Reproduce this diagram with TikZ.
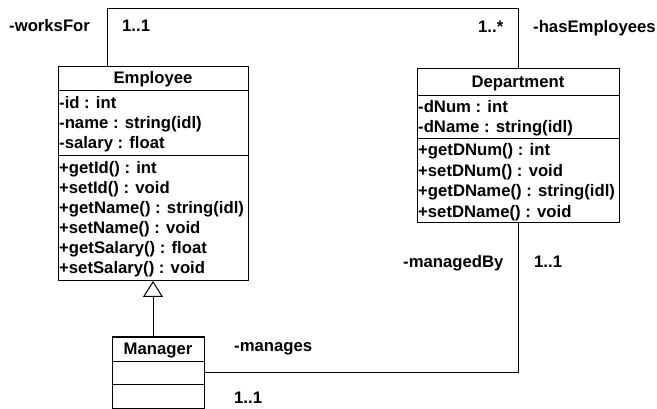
\documentclass[tikz,border=0pt]{standalone}
\usepackage{fontspec}
\setmainfont{Liberation Sans}
\usetikzlibrary{arrows.meta}
\begin{document}
\begin{tikzpicture}[x=1pt,y=-1pt,
  every node/.style={font=\fontsize{16.7}{19}\selectfont\bfseries},
  classbox/.style={draw,line width=1pt,anchor=north west,inner sep=0pt,outer sep=0pt},
  row/.style={anchor=base west,inner sep=0pt},
  ttl/.style={anchor=base,inner sep=0pt},
  lbl/.style={anchor=base west,inner sep=0pt},
  conn/.style={line width=1pt},
  divider/.style={line width=1pt}]
\useasboundingbox (0,0) rectangle (657,409);
% Employee
\node[classbox,minimum width=190pt,minimum height=214pt] (emp) at (58,67) {};
\draw[divider] (58,91) -- (248,91);
\draw[divider] (58,156) -- (248,156);
\node[ttl] (empt) at (153,84) {Employee};
\node[row] (e1) at (59,109) {-id : int};
\node[row] (e2) at (59,129) {-name : string(idl)};
\node[row] (e3) at (59,149) {-salary : float};
\node[row] (e4) at (59,174) {+getId() : int};
\node[row] (e5) at (59,194) {+setId() : void};
\node[row] (e6) at (59,214) {+getName() : string(idl)};
\node[row] (e7) at (59,234) {+setName() : void};
\node[row] (e8) at (59,254) {+getSalary() : float};
\node[row] (e9) at (59,274) {+setSalary() : void};
% Department
\node[classbox,minimum width=202pt,minimum height=154pt] (dept) at (417,69) {};
\draw[divider] (417,96) -- (619,96);
\draw[divider] (417,139) -- (619,139);
\node[ttl] (deptt) at (518,88) {Department};
\node[row] (d1) at (418,113) {-dNum : int};
\node[row] (d2) at (418,133) {-dName : string(idl)};
\node[row] (d3) at (418,156) {+getDNum() : int};
\node[row] (d4) at (418,177) {+setDNum() : void};
\node[row] (d5) at (418,197) {+getDName() : string(idl)};
\node[row] (d6) at (418,218) {+setDName() : void};
% Manager
\node[classbox,minimum width=92pt,minimum height=71pt] (mgr) at (112,337) {};
\draw[divider] (112,361) -- (204,361);
\draw[divider] (112,384) -- (204,384);
\node[ttl] (mgrt) at (158,355) {Manager};
% connectors
\coordinate (c1) at (107,9);
\coordinate (c2) at (518,9);
\draw[conn] (c1 |- emp.north) -- (c1) -- (c2) -- (c2 |- dept.north);
\draw[conn] (c2 |- dept.south) |- (mgr.east);
\draw[conn,-{Triangle[open,width=20pt,length=16pt]}] (emp.south |- mgr.north) -- (emp.south);
% labels
\node[lbl] (l1) at (9,32) {-worksFor};
\node[lbl] (l2) at (122,32) {1..1};
\node[lbl] (l3) at (478,33) {1..*};
\node[lbl] (l4) at (533,33) {-hasEmployees};
\node[lbl] (l5) at (403,268) {-managedBy};
\node[lbl] (l6) at (534,268) {1..1};
\node[lbl] (l7) at (234,352) {-manages};
\node[lbl] (l8) at (234,403) {1..1};
\end{tikzpicture}
\end{document}
